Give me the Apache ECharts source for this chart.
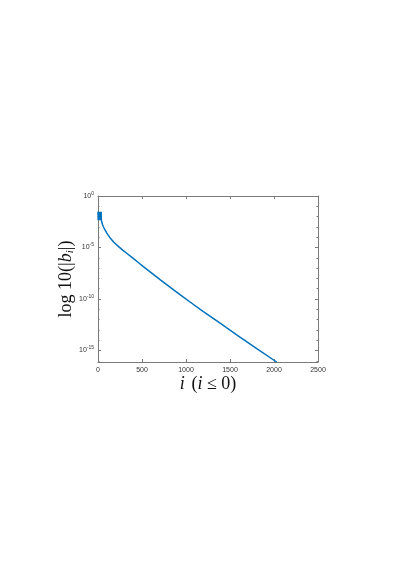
<!DOCTYPE html>
<html>
<head>
<meta charset="utf-8">
<script src="https://cdn.jsdelivr.net/npm/echarts@6/dist/echarts.min.js"></script>
<style>
  html, body { margin: 0; padding: 0; background: #fff; }
  #chart { width: 403px; height: 571px; }
</style>
</head>
<body>
<div id="chart"></div>
<script>
// index i and |b_i|
var idx = [0, 2, 4, 6, 8, 10, 12, 14, 16, 18, 20, 22, 24, 26, 28, 30, 32, 34, 36, 38,
  40, 50, 60, 80, 100, 136, 180, 231, 280, 330, 400, 458, 515, 600, 705, 818, 924,
  1050, 1197, 1380, 1576, 1800, 2030];
var absB = [3.0e-2, 4.5e-3, 3.0e-2, 4.5e-3, 3.0e-2, 4.5e-3, 3.0e-2, 4.5e-3, 3.0e-2, 4.5e-3,
  3.0e-2, 4.5e-3, 3.0e-2, 4.5e-3, 3.0e-2, 4.5e-3, 3.0e-2, 4.5e-3, 3.0e-2, 4.5e-3,
  3.5e-3, 1.8e-3, 1.1e-3, 5.0e-4, 2.5e-4, 9.0e-5, 3.2e-5, 1.3e-5, 5.6e-6, 2.6e-6,
  8.9e-7, 3.5e-7, 1.4e-7, 3.8e-8, 7.6e-9, 1.4e-9, 3.0e-10, 4.8e-11, 6.0e-12, 5.0e-13,
  3.3e-14, 1.6e-15, 7.6e-17];
var xTicks = [0, 500, 1000, 1500, 2000, 2500];
var yMajor = [1e-15, 1e-10, 1e-5, 1];
var yMinor = [1e-16, 1e-15, 1e-14, 1e-13, 1e-12, 1e-11, 1e-10, 1e-9, 1e-8, 1e-7, 1e-6,
  1e-5, 1e-4, 1e-3, 1e-2, 1e-1, 1];

var yMin = 7.6e-17, yMax = 1;
var axisGrey = '#7a7a7a';

var chart = echarts.init(document.getElementById('chart'));

function yAxisDef(pos, labels, ticks, len, line) {
  return {
    type: 'log', logBase: 10, position: pos, min: yMin, max: yMax,
    axisLine: { show: line, onZero: false, lineStyle: { color: axisGrey, width: 1 } },
    axisTick: { show: true, inside: true, length: len, customValues: ticks,
      lineStyle: { color: axisGrey } },
    axisLabel: labels ? {
      show: true, customValues: yMajor, margin: 4, color: '#333',
      formatter: function (v) {
        return '{b|10}{e|' + Math.round(Math.log10(v)) + '}';
      },
      rich: {
        b: { fontSize: 7, fontFamily: 'Liberation Sans', color: '#333' },
        e: { fontSize: 5, fontFamily: 'Liberation Sans', color: '#333', verticalAlign: 'bottom', padding: [0, 0, 5, 0] }
      }
    } : { show: false },
    splitLine: { show: false }
  };
}

var option = {
  animation: false,
  grid: { left: 98, right: 85, top: 196, bottom: 209, containLabel: false },
  xAxis: [
    {
      type: 'value', position: 'bottom', min: 0, max: 2500, interval: 500,
      axisLine: { onZero: false, lineStyle: { color: axisGrey, width: 1 } },
      axisTick: { inside: true, length: 3, lineStyle: { color: axisGrey } },
      axisLabel: { fontSize: 7, color: '#333', margin: 5, fontFamily: 'Liberation Sans',
        customValues: xTicks, formatter: function (v) { return String(v); } },
      splitLine: { show: false },
      name: '{it|i}  {n|(}{it|i}{n| ≤ 0)}',
      nameLocation: 'middle', nameGap: 11,
      nameTextStyle: {
        rich: {
          it: { fontSize: 18, fontStyle: 'italic', fontFamily: 'Liberation Serif', color: '#111' },
          n: { fontSize: 18, fontFamily: 'Liberation Serif', color: '#111' }
        }
      }
    },
    {
      type: 'value', position: 'top', min: 0, max: 2500, interval: 500,
      axisLine: { show: true, onZero: false, lineStyle: { color: axisGrey, width: 1 } },
      axisTick: { inside: true, length: 3, lineStyle: { color: axisGrey } },
      axisLabel: { show: false },
      splitLine: { show: false }
    }
  ],
  yAxis: [
    Object.assign(yAxisDef('left', true, yMajor, 3, true), {
      name: '{n|log 10(|}{it|b}{sub|i}{n||)}',
      nameLocation: 'middle', nameGap: 22, nameRotate: 90, nameMoveOverlap: false,
      nameTextStyle: {
        rich: {
          n: { fontSize: 18, fontFamily: 'Liberation Serif', color: '#111' },
          it: { fontSize: 18, fontStyle: 'italic', fontFamily: 'Liberation Serif', color: '#111' },
          sub: { fontSize: 11, fontStyle: 'italic', fontFamily: 'Liberation Serif', color: '#111',
            verticalAlign: 'top', padding: [8, 0, 0, 0] }
        }
      }
    }),
    yAxisDef('right', false, yMajor, 3, true),
    yAxisDef('left', false, yMinor, 1.5, false),
    yAxisDef('right', false, yMinor, 1.5, false)
  ],
  series: [
    {
      type: 'line',
      xAxisIndex: 0, yAxisIndex: 0,
      data: idx.map(function (x, k) { return [x, absB[k]]; }),
      showSymbol: false,
      lineStyle: { color: '#0072BD', width: 1.5 },
      clip: true
    }
  ]
};

chart.setOption(option);
</script>
</body>
</html>
